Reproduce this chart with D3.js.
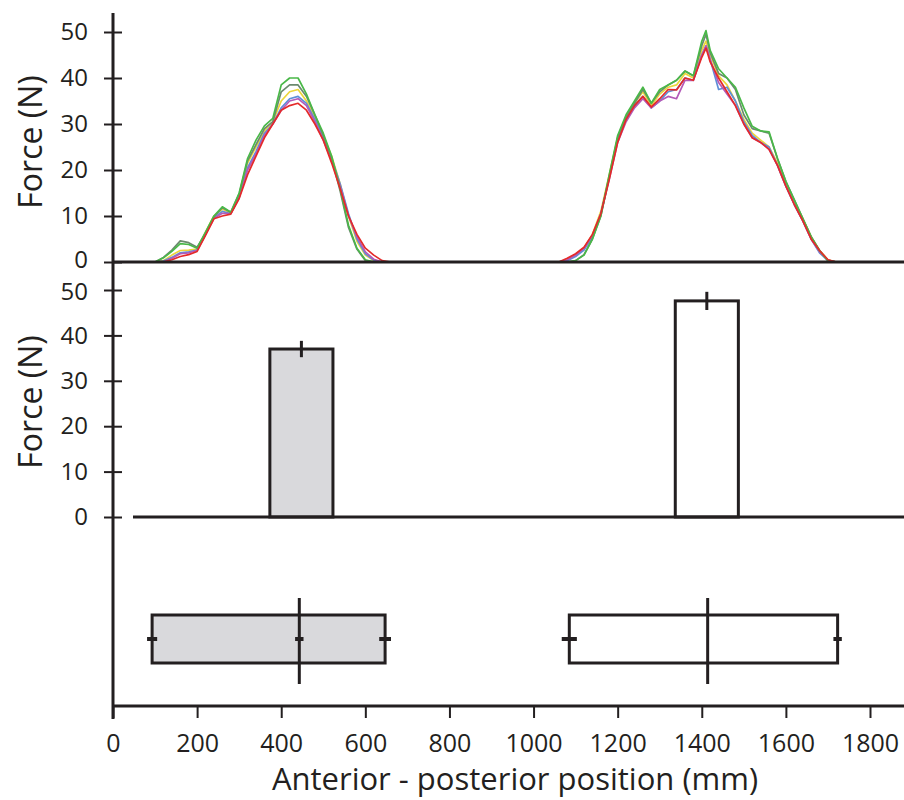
<!DOCTYPE html>
<html>
<head>
<meta charset="utf-8">
<script src="https://cdn.jsdelivr.net/npm/d3@7"></script>
<style>
  body { margin: 0; background: #fff; }
  svg { display: block; font-family: "Open Sans", sans-serif; }
</style>
</head>
<body>
<div id="chart"></div>
<script>
// anterior-posterior position of each force sample (mm), front pad then rear pad
const positions = [100,120,140,160,180,200,220,240,260,280,300,320,340,360,380,400,420,440,460,480,500,520,540,560,580,600,620,640,660,
  1060,1080,1100,1120,1140,1160,1180,1200,1220,1240,1260,1280,1300,1320,1340,1360,1380,1400,1410,1420,1440,1460,1480,1500,1520,1540,1560,1580,1600,1620,1640,1660,1680,1700,1720];

// force traces (N), one per trial
const forceYellow = [0,0.3,1.5,2.5,2.6,2.8,6.5,10,11.5,10.6,14.5,21.5,25,28.5,30.5,35,37,37.5,35,31.5,27.5,23,17,10,4.5,1.5,0.3,0,0,
  0,0.5,1.5,3,6,11,19,27,31.5,34.5,37,34,36.5,38,38.5,41,40,46,48,45,40.5,38.5,35,31,28,26.5,25,21.5,17,13,9.5,5.5,2.5,0.5,0];
const forceBlue = [0,0.2,1,2,2.2,2.6,6,9.6,11,10.5,14,20.5,24,28,30,33.5,35.5,36,34.5,31,27,22.5,17,10.5,5,1.8,0.4,0,0,
  0,0.3,1.2,2.6,5.5,10.5,18.5,26.5,31,34,36,33.5,35,37,37.5,40,39.5,45,47,44,37.5,38,35,30.5,27.5,26,25,21,16.5,12.5,9,5,2,0.3,0];
const forceMagenta = [0,0,0.8,1.8,2,2.5,6,9.5,10.6,10.5,14,20,23.5,27.5,30,33,35,35.5,34,30.5,26.5,22,16.5,10,5.5,2.2,0.6,0,0,
  0,0.5,1.5,3,5.8,10.5,18,26,30.5,33.5,35.5,33.5,35,36,35.5,39.5,39.5,45,47,44,39,36.5,34,30,27,26,24.5,21,16.5,12.5,9,5,2.2,0.4,0];
const forceDark = [0,1,2.6,4.6,4.2,3.2,6.2,9.8,11.8,10.8,14.8,22,25.5,29,30.5,37,38.5,38.5,36,32,27.5,22.5,15.5,7.5,2.8,0.3,0,0,0,
  0,0,0.3,1.6,5,10,18.5,27,31.5,34.5,37.5,34.5,37,38.5,39.5,41.5,40.5,47,49.5,45.5,41,40,37.5,32,29,28.5,28,22.5,17.5,13.5,9.5,5.5,2.5,0.3,0];
const forceGreen = [0,0.9,2.3,4,3.8,3,6.5,10,12,10.8,15,22.5,26.5,29.6,31.2,38.5,40,40,36.5,32,28,23,16,8,3,0.5,0,0,0,
  0,0,0.3,1.5,5,10,19,27.5,32,35,38,34.5,37.5,38.5,39.5,41.5,40.5,48,50.3,46,42,40,38,33.5,29.5,28.5,28.3,22.5,17.5,13.5,9.5,5.5,2.5,0.3,0];
const forceRed = [0,0,0.5,1.2,1.6,2.3,5.8,9.4,10,10.4,13.8,19,23,27,30,33,34,34.5,33,30,26.5,21.5,16,10,6,3,1.5,0.3,0,
  0,0.8,1.8,3.2,6,10.5,18,26,31,34,36,33.7,35.5,37.5,37.4,40,39.5,44.5,46.5,43.5,40,37,34,30,27,26,24.5,21,16.5,12.5,9,5,2.5,0.5,0];

const traces = [forceYellow, forceBlue, forceMagenta, forceDark, forceGreen, forceRed];
const traceColors = ["#ecd63a", "#5e8fd8", "#b35ab8", "#6b8a6e", "#49b848", "#e42a2a"];

// peak force per pad: centre position (mm), mean force and error (N)
const peakPos = [448, 1412];
const peakForce = [37, 47.6];
const peakErr = [1.8, 2];
const barWidthMm = 150;

// contact extent per pad (mm): start, mean centre, end, with errors
const contactStart = [93, 1085];
const contactStartErr = [12, 18];
const contactMean = [443, 1414];
const contactMeanErr = [10, 0];
const contactEnd = [647, 1723];
const contactEndErr = [14, 10];

const padFills = ["#d9d9dc", "#ffffff"];

const forceTicks = [0, 10, 20, 30, 40, 50];
const positionTicks = [0, 200, 400, 600, 800, 1000, 1200, 1400, 1600, 1800];

const width = 904, height = 800;
const ink = "#231f20";

const svg = d3.select("#chart").append("svg")
    .attr("width", width)
    .attr("height", height);

const x = d3.scaleLinear().domain([0, 1800]).range([113, 870]);
const yTop = d3.scaleLinear().domain([0, 50]).range([262, 32]);
const yMid = d3.scaleLinear().domain([0, 50]).range([517, 290]);

// force traces
const line = d3.line()
    .x((d, i) => x(positions[i]))
    .y(d => yTop(d));

svg.append("g").selectAll("path")
  .data(traces)
  .join("path")
    .attr("d", d => line(d))
    .attr("fill", "none")
    .attr("stroke", (d, i) => traceColors[i])
    .attr("stroke-width", 1.7)
    .attr("stroke-linejoin", "round");

// peak force bars
const bars = svg.append("g");
bars.selectAll("rect")
  .data(peakForce)
  .join("rect")
    .attr("x", (d, i) => x(peakPos[i] - barWidthMm / 2))
    .attr("width", (d, i) => x(peakPos[i] + barWidthMm / 2) - x(peakPos[i] - barWidthMm / 2))
    .attr("y", d => yMid(d))
    .attr("height", d => yMid(0) - yMid(d))
    .attr("fill", (d, i) => padFills[i])
    .attr("stroke", ink)
    .attr("stroke-width", 3);
bars.selectAll("line")
  .data(peakForce)
  .join("line")
    .attr("x1", (d, i) => x(peakPos[i]))
    .attr("x2", (d, i) => x(peakPos[i]))
    .attr("y1", (d, i) => yMid(d + peakErr[i]))
    .attr("y2", (d, i) => yMid(d - peakErr[i]))
    .attr("stroke", ink)
    .attr("stroke-width", 3);

// contact extent boxes
const boxTop = 615, boxBottom = 663, boxMid = 639;
const boxes = svg.append("g");
boxes.selectAll("rect")
  .data(contactStart)
  .join("rect")
    .attr("x", d => x(d))
    .attr("width", (d, i) => x(contactEnd[i]) - x(d))
    .attr("y", boxTop)
    .attr("height", boxBottom - boxTop)
    .attr("fill", (d, i) => padFills[i])
    .attr("stroke", ink)
    .attr("stroke-width", 3);
boxes.selectAll("line.mean")
  .data(contactMean)
  .join("line")
    .attr("class", "mean")
    .attr("x1", d => x(d))
    .attr("x2", d => x(d))
    .attr("y1", 598)
    .attr("y2", 684)
    .attr("stroke", ink)
    .attr("stroke-width", 3);

const errs = [];
contactStart.forEach((d, i) => {
  errs.push([d, contactStartErr[i]], [contactMean[i], contactMeanErr[i]], [contactEnd[i], contactEndErr[i]]);
});
boxes.selectAll("line.err")
  .data(errs.filter(e => e[1] > 0))
  .join("line")
    .attr("class", "err")
    .attr("x1", d => x(d[0] - d[1]))
    .attr("x2", d => x(d[0] + d[1]))
    .attr("y1", boxMid)
    .attr("y2", boxMid)
    .attr("stroke", ink)
    .attr("stroke-width", 4);

// baselines and left spine
svg.append("line")
    .attr("x1", 113).attr("x2", width)
    .attr("y1", yTop(0)).attr("y2", yTop(0))
    .attr("stroke", ink).attr("stroke-width", 3);
svg.append("line")
    .attr("x1", 133).attr("x2", width)
    .attr("y1", yMid(0)).attr("y2", yMid(0))
    .attr("stroke", ink).attr("stroke-width", 3);
svg.append("line")
    .attr("x1", 113).attr("x2", width)
    .attr("y1", 706).attr("y2", 706)
    .attr("stroke", ink).attr("stroke-width", 3);
svg.append("line")
    .attr("x1", 113).attr("x2", 113)
    .attr("y1", 13).attr("y2", 719)
    .attr("stroke", ink).attr("stroke-width", 3);

// y axes with ticks crossing the spine
function forceAxis(scale, labelY, nudge) {
  const g = svg.append("g")
      .attr("transform", "translate(113,0)")
      .call(d3.axisLeft(scale).tickValues(forceTicks).tickSize(9));
  g.select(".domain").remove();
  g.selectAll(".tick line")
      .attr("x1", 9).attr("x2", -9)
      .attr("stroke", ink).attr("stroke-width", 2);
  g.selectAll(".tick text")
      .attr("x", -25)
      .attr("y", d => nudge(d))
      .attr("fill", ink)
      .style("font-size", "24px")
      .style("font-family", "'Open Sans', sans-serif");
  svg.append("text")
      .attr("transform", `translate(42,${labelY}) rotate(-90)`)
      .attr("text-anchor", "middle")
      .attr("fill", ink)
      .style("font-size", "32px")
      .text("Force (N)");
}
// the top panel's 0 and the middle panel's 50 sit close; pull them apart a little
forceAxis(yTop, 142, d => (d === 0 ? -2 : 0));
forceAxis(yMid, 402, d => (d === 50 ? 2 : 0));

// x axis
const gx = svg.append("g")
    .attr("transform", "translate(0,706)")
    .call(d3.axisBottom(x).tickValues(positionTicks).tickSize(12).tickFormat(d3.format("d")));
gx.select(".domain").remove();
gx.selectAll(".tick line").attr("stroke", ink).attr("stroke-width", 2);
gx.selectAll(".tick text")
    .attr("y", 46)
    .attr("dy", null)
    .attr("fill", ink)
    .style("font-size", "25px")
    .style("font-family", "'Open Sans', sans-serif");

svg.append("text")
    .attr("x", 515)
    .attr("y", 790)
    .attr("text-anchor", "middle")
    .attr("fill", ink)
    .style("font-size", "31px")
    .text("Anterior - posterior position (mm)");
</script>
</body>
</html>
